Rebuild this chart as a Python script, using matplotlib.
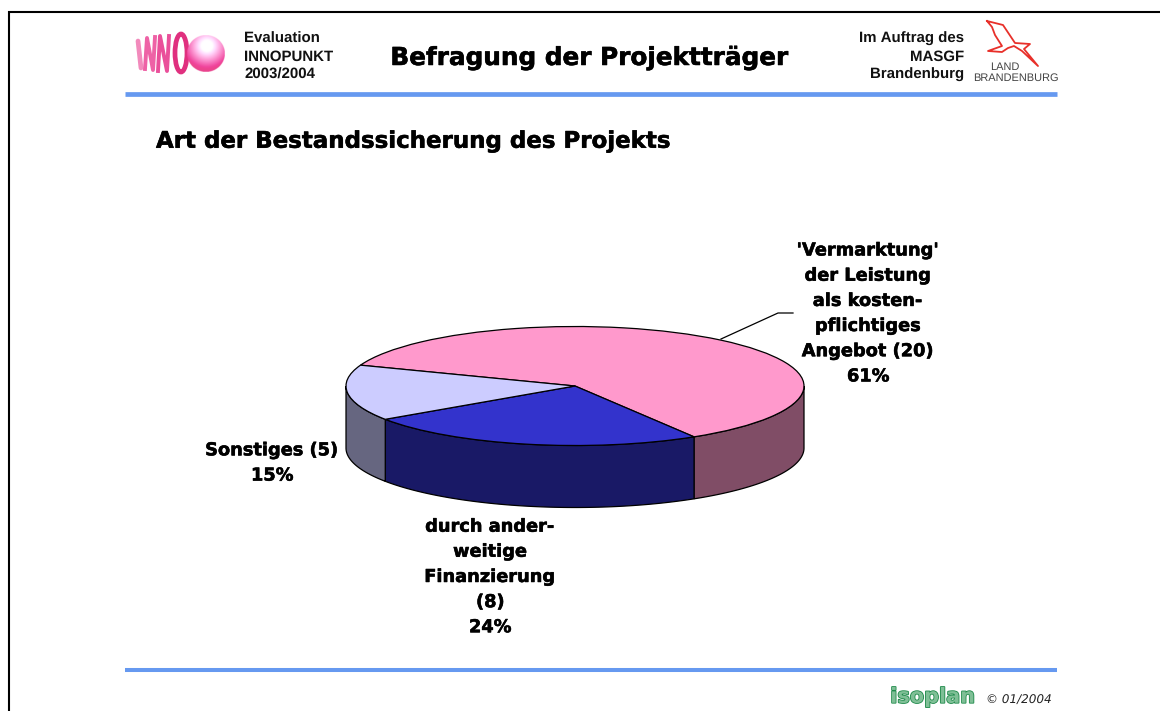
import numpy as np
import matplotlib
matplotlib.use('Agg')
import matplotlib.pyplot as plt
import matplotlib.patheffects as pe
from matplotlib.patches import Ellipse

plt.rcParams['text.hinting'] = 'no_hinting'
plt.rcParams['text.hinting_factor'] = 1

# Data
categories = ["'Vermarktung'\nder Leistung\nals kosten-\npflichtiges\nAngebot (20)\n61%",
              "durch ander-\nweitige\nFinanzierung\n(8)\n24%",
              "Sonstiges (5)\n15%"]
values = [20, 8, 5]
top_colors = ['#ff99cc', '#3333cc', '#ccccff']
side_colors = ['#804d66', '#191966', '#666680']
start_angle = 159.5

W, H = 1160, 711
BLUE = '#6699f0'
THICK = [pe.withStroke(linewidth=0.4, foreground='black')]

fig = plt.figure(figsize=(W / 100, H / 100), dpi=100, facecolor='white')

# full page axes in pixel coordinates
bg = fig.add_axes([0, 0, 1, 1])
bg.axis('off')

# page frame and blue rules
bg.plot([8, W], [12, 12], color='black', lw=1.5, solid_capstyle='butt')
bg.plot([9, 9], [11, H], color='black', lw=1.5, solid_capstyle='butt')
bg.plot([125, 1057], [93.5, 93.5], color=BLUE, lw=3.4, solid_capstyle='butt')
bg.plot([125, 1057], [670, 670], color=BLUE, lw=2.9, solid_capstyle='butt')

# header text
header_font = dict(family='Liberation Sans', weight='bold', fontsize=11, va='center',
                   linespacing=1.36, color='#111111')
bg.text(244, 57, 'Evaluation\nINNOPUNKT\n2003/2004', ha='left', **header_font)
bg.text(591.5, 58, 'Befragung der Projektträger', family='DejaVu Sans', weight='bold',
        fontsize=17.8, va='center', ha='center', path_effects=THICK)
bg.text(964, 57, 'Im Auftrag des\nMASGF\nBrandenburg', ha='right', **header_font)
bg.text(156, 141.5, 'Art der Bestandssicherung des Projekts', family='DejaVu Sans', weight='bold',
        fontsize=16.5, va='center', ha='left', path_effects=THICK)

# INNO logo: letters as slanted bars, then the ring
bg.plot([138, 141], [41, 68], color='#f28abc', lw=3.4, solid_capstyle='round')
bg.plot([145, 147, 153, 155], [69, 38, 70, 37], color='#ee62a6', lw=2.8)
bg.plot([158, 160, 167, 169], [71, 36, 71, 36], color='#ea4f9a', lw=2.8)
bg.add_patch(Ellipse((181, 53), 12, 38, fc='none', ec='#e0307f', lw=3.4))

# sphere with highlight
yy, xx = np.mgrid[-1:1:160j, -1:1:160j]
dist = np.hypot(xx - 0.05, yy + 0.42)
rgba = np.ones((160, 160, 4))
rgba[..., 0] = np.clip(1.08 - 0.12 * dist, 0.88, 1)
rgba[..., 1] = np.clip(1.25 - 0.85 * dist, 0.27, 1)
rgba[..., 2] = np.clip(1.25 - 0.55 * dist, 0.56, 1)
rgba[dist < 0.22, :3] = 1
rgba[..., 3] = (np.hypot(xx, yy) <= 1).astype(float)
bg.imshow(rgba, extent=(187, 225, 72, 35), aspect='auto', zorder=3, interpolation='bilinear')

# Brandenburg eagle
eagle = [(987, 21), (1003, 25), (1015, 43), (1030, 44), (1024, 49), (1038, 66),
         (1022, 51), (1014, 46), (1008, 48), (1002, 52), (988, 51), (1002, 46),
         (995, 35), (992, 27), (987, 21)]
bg.plot(*zip(*eagle), color='#e8302a', lw=1.3)
bg.text(1005, 67.5, 'LAND', family='Liberation Sans', fontsize=7.8, ha='center', va='center', color='#444444')
bg.text(1016, 78.5, 'BRANDENBURG', family='Liberation Sans', fontsize=7.8, ha='center', va='center', color='#444444')

# footer
bg.text(933, 697, 'isoplan', family='DejaVu Sans', weight='bold', fontsize=15, ha='center', va='center',
        color='#7fbf96', path_effects=[pe.withStroke(linewidth=1.2, foreground='#1e8a4a')])
bg.text(986, 700.5, '© 01/2004', family='DejaVu Sans', style='italic', fontsize=8.3, ha='left', va='center',
        color='#222222')

# leader line
bg.plot([721, 778, 793], [339, 313, 313], color='black', lw=0.9)

# pie labels
label_font = dict(family='DejaVu Sans', weight='bold', fontsize=12.8, ha='center', va='center',
                  linespacing=1.56, path_effects=THICK)
bg.text(868.5, 313.5, categories[0], **label_font)
bg.text(490.5, 577, categories[1], **label_font)
bg.text(272.5, 463, categories[2], **label_font)

bg.set_xlim(0, W)
bg.set_ylim(H, 0)

# pie axes: pixel box of the ellipse plus wall height
cx, cy, a, b, depth = 575, 386, 229, 59.5, 62
ax = fig.add_axes([(cx - a) / W, 1 - (cy + b + depth) / H, 2 * a / W, (2 * b + depth) / H])
wedges, _ = ax.pie(values, colors=top_colors, startangle=start_angle, counterclock=False, radius=1,
                   wedgeprops=dict(edgecolor='black', linewidth=0.9), normalize=True)
ax.set_aspect('auto')
d = depth / b
ax.set_xlim(-1, 1)
ax.set_ylim(-1 - d, 1)
ax.axis('off')
for w in wedges:
    w.set_clip_on(False)
    w.set_zorder(3)

# walls, only the front half of the ellipse is visible
for w, col in zip(wedges, side_colors):
    t1 = w.theta1 % 360
    t2 = t1 + (w.theta2 - w.theta1)
    for off in (0, 360):
        lo, hi = max(t1 + off, 180), min(t2 + off, 360)
        if hi > lo:
            t = np.radians(np.linspace(lo, hi, 80))
            xs = np.r_[np.cos(t), np.cos(t[::-1])]
            ys = np.r_[np.sin(t), np.sin(t[::-1]) - d]
            ax.fill(xs, ys, fc=col, ec='black', lw=0.9, clip_on=False, zorder=2)

fig.savefig('out.png', dpi=100)
